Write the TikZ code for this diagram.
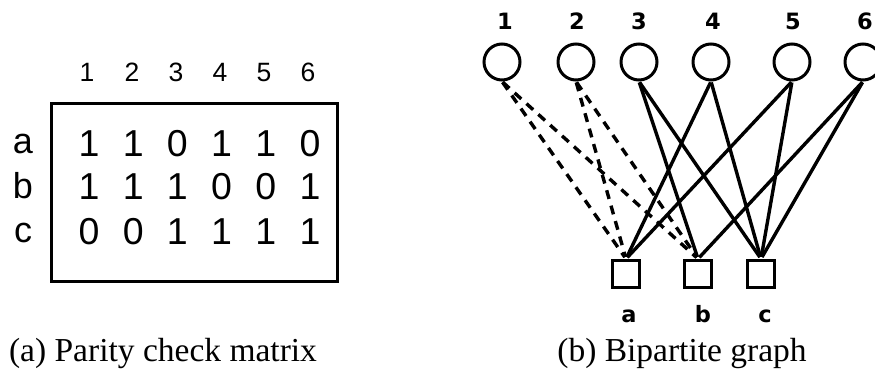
\documentclass[tikz,border=0pt]{standalone}
\usepackage{fontspec}
\setmainfont{Liberation Serif}
\newfontfamily\arialfont{Liberation Sans}
\newfontfamily\lblfont{DejaVu Sans}
\begin{document}
\begin{tikzpicture}[x=1pt,y=-1pt,
  hdr/.style={font=\arialfont\fontsize{26.5}{26.5}\selectfont, anchor=base, inner sep=0pt},
  ent/.style={font=\arialfont\fontsize{37.5}{37.5}\selectfont, anchor=base, inner sep=0pt},
  rowlbl/.style={font=\arialfont\fontsize{36}{36}\selectfont, anchor=base, inner sep=0pt},
  captext/.style={font=\fontsize{33.5}{33.5}\selectfont, anchor=base, inner sep=0pt},
  glbl/.style={font=\lblfont\bfseries\fontsize{22.5}{22.5}\selectfont, anchor=base, inner sep=0pt},
  vnode/.style={draw, circle, line width=3pt, minimum size=36pt, inner sep=0pt},
  cnode/.style={draw, rectangle, line width=3.3pt, minimum size=27pt, inner sep=0pt},
  solidedge/.style={line width=3.4pt, shorten >=2pt, shorten <=1pt},
  dashededge/.style={line width=3.4pt, dash pattern=on 9pt off 7pt, shorten >=2pt, shorten <=1pt},
]
\useasboundingbox (0,0) rectangle (875,371);
% (a) matrix
\node[draw, line width=3.4pt, minimum width=286pt, minimum height=178pt, inner sep=0pt] (box) at (194.5,192.5) {};
\foreach \i/\x in {1/87,2/132,3/176,4/220,5/264,6/308}
  \node[hdr] (h\i) at (\x,82) {\i};
\node[rowlbl] (ra) at (23,154) {a};
\node[rowlbl] (rb) at (23,199) {b};
\node[rowlbl] (rc) at (23,243) {c};
\foreach \v [count=\j] in {1,1,0,1,1,0}{
  \pgfmathsetmacro\xx{89+44.2*(\j-1)}
  \node[ent] (ma\j) at (\xx,157) {\v};}
\foreach \v [count=\j] in {1,1,1,0,0,1}{
  \pgfmathsetmacro\xx{89+44.2*(\j-1)}
  \node[ent] (mb\j) at (\xx,200) {\v};}
\foreach \v [count=\j] in {0,0,1,1,1,1}{
  \pgfmathsetmacro\xx{89+44.2*(\j-1)}
  \node[ent] (mc\j) at (\xx,245) {\v};}
\node[captext] (capa) at (163,361) {(a) Parity check matrix};
% (b) graph
\foreach \i/\x/\lx in {1/502/505,2/576/577,3/639/639,4/711/713,5/792/793,6/863/865}{
  \node[vnode] (v\i) at (\x,62) {};
  \node[glbl] (l\i) at (\lx,30) {\i};
}
\node[cnode] (ca) at (626,274) {};
\node[cnode] (cb) at (698,274) {};
\node[cnode] (cc) at (761,274) {};
\node[glbl] (la) at (629,322) {a};
\node[glbl] (lb) at (703,322) {b};
\node[glbl] (lc) at (765,322) {c};
\draw[dashededge] (v1.south) -- (ca.north);
\draw[dashededge] (v1.south) -- (cb.north);
\draw[dashededge] (v2.south) -- (ca.north);
\draw[dashededge] (v2.south) -- (cb.north);
\draw[solidedge] (v3.south) -- (cb.north);
\draw[solidedge] (v3.south) -- (cc.north);
\draw[solidedge] (v4.south) -- (ca.north);
\draw[solidedge] (v4.south) -- (cc.north);
\draw[solidedge] (v5.south) -- (ca.north);
\draw[solidedge] (v5.south) -- (cc.north);
\draw[solidedge] (v6.south) -- (cb.north);
\draw[solidedge] (v6.south) -- (cc.north);
\node[captext] (capb) at (682,361) {(b) Bipartite graph};
\end{tikzpicture}
\end{document}
